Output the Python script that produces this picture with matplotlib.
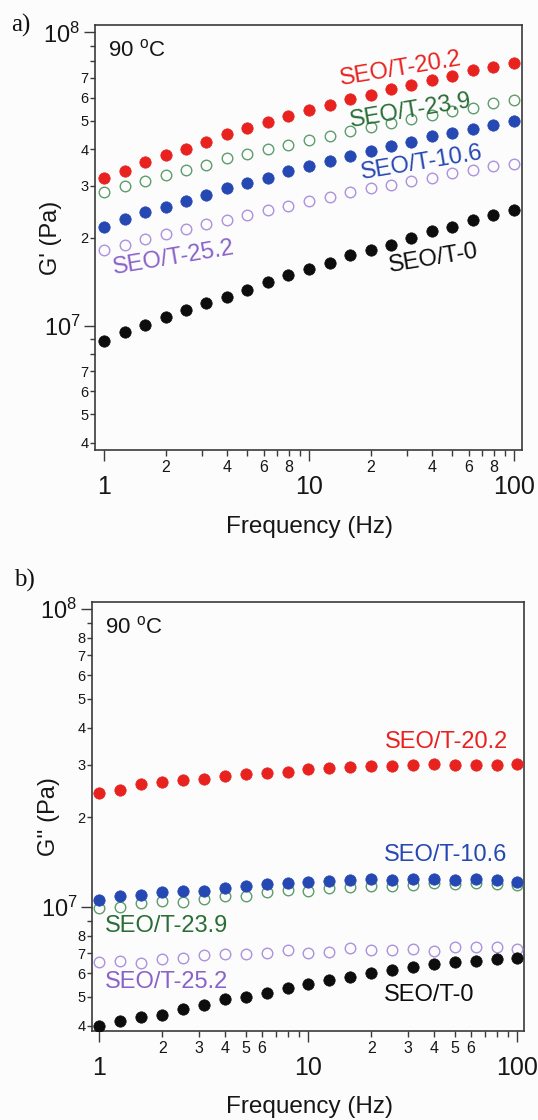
import numpy as np
import matplotlib
matplotlib.use("Agg")
import matplotlib.pyplot as plt

plt.rcParams['font.family'] = ['Liberation Sans', 'DejaVu Sans']
plt.rcParams['mathtext.fontset'] = 'custom'
plt.rcParams['mathtext.rm'] = 'Liberation Sans'
plt.rcParams['mathtext.it'] = 'Liberation Sans:italic'
plt.rcParams['mathtext.bf'] = 'Liberation Sans:bold'

# ---------------- data ----------------
freq = [1, 1.26, 1.58, 2.0, 2.51, 3.16, 3.98, 5.01, 6.31, 7.94,
        10, 12.6, 15.8, 20.0, 25.1, 31.6, 39.8, 50.1, 63.1, 79.4, 100]

# G' (units of 1e7 Pa)
gp_20_2 = [3.18, 3.38, 3.61, 3.83, 4.02, 4.24, 4.49, 4.73, 4.94, 5.18, 5.42,
           5.68, 5.95, 6.14, 6.42, 6.64, 6.91, 7.13, 7.42, 7.61, 7.84]
gp_23_9 = [2.86, 2.99, 3.12, 3.26, 3.41, 3.54, 3.72, 3.85, 4.01, 4.15, 4.29,
           4.45, 4.63, 4.75, 4.92, 5.09, 5.25, 5.39, 5.53, 5.75, 5.90]
gp_10_6 = [2.18, 2.32, 2.44, 2.54, 2.67, 2.80, 2.94, 3.08, 3.19, 3.36, 3.50,
           3.64, 3.78, 3.96, 4.09, 4.22, 4.43, 4.55, 4.69, 4.85, 4.98]
gp_25_2 = [1.82, 1.88, 1.98, 2.05, 2.14, 2.22, 2.30, 2.39, 2.48, 2.57, 2.66,
           2.74, 2.86, 2.94, 3.03, 3.11, 3.18, 3.32, 3.41, 3.50, 3.57]
gp_0 = [0.889, 0.956, 1.008, 1.07, 1.13, 1.20, 1.26, 1.33, 1.41, 1.49, 1.56,
        1.64, 1.74, 1.82, 1.89, 2.00, 2.10, 2.18, 2.30, 2.38, 2.48]

# G'' (units of 1e7 Pa)
gpp_20_2 = [2.42, 2.48, 2.59, 2.63, 2.67, 2.68, 2.75, 2.79, 2.82, 2.85, 2.90,
            2.93, 2.94, 2.97, 2.98, 3.00, 3.03, 3.00, 3.00, 3.00, 3.01]
gpp_10_6 = [1.06, 1.09, 1.10, 1.12, 1.13, 1.13, 1.155, 1.18, 1.195, 1.20, 1.21,
            1.22, 1.23, 1.24, 1.23, 1.245, 1.245, 1.23, 1.245, 1.23, 1.215]
gpp_23_9 = [0.990, 1.003, 1.029, 1.047, 1.042, 1.064, 1.089, 1.089, 1.126, 1.14,
            1.132, 1.155, 1.17, 1.179, 1.179, 1.185, 1.20, 1.192, 1.20, 1.195, 1.185]
gpp_25_2 = [0.655, 0.659, 0.647, 0.667, 0.676, 0.690, 0.696, 0.694, 0.703, 0.717,
            0.703, 0.705, 0.727, 0.717, 0.717, 0.723, 0.713, 0.736, 0.736, 0.736, 0.723]
gpp_0 = [0.400, 0.414, 0.429, 0.436, 0.455, 0.469, 0.491, 0.500, 0.513, 0.536,
         0.554, 0.569, 0.584, 0.599, 0.615, 0.631, 0.642, 0.652, 0.661, 0.669, 0.676]

series_names = ["SEO/T-20.2", "SEO/T-23.9", "SEO/T-10.6", "SEO/T-25.2", "SEO/T-0"]

# tick labels
x_major = [1, 10, 100]
x_major_labels = ["1", "10", "100"]
x_minor = [2, 3, 4, 5, 6, 7, 8, 9, 20, 30, 40, 50, 60, 70, 80, 90]
x_minor_labels_a = ["2", "", "4", "", "6", "", "8", "", "2", "", "4", "", "6", "", "8", ""]
x_minor_labels_b = ["2", "3", "4", "5", "6", "", "", "", "2", "3", "4", "5", "6", "", "", ""]
y_major = [1e7, 1e8]
y_major_labels = [r"$10^7$", r"$10^8$"]
y_minor = [4e6, 5e6, 6e6, 7e6, 8e6, 9e6, 2e7, 3e7, 4e7, 5e7, 6e7, 7e7, 8e7, 9e7]
y_minor_labels_a = ["4", "5", "6", "7", "", "", "2", "3", "4", "5", "6", "7", "", ""]
y_minor_labels_b = ["4", "5", "6", "7", "8", "", "2", "3", "4", "5", "6", "7", "8", ""]

# ---------------- style ----------------
BG = "#fcfcfd"
RED = "#e8221f"
GREEN_M = "#5e9d6b"
GREEN_T = "#2a6e35"
BLUE = "#2548b2"
PURPLE_M = "#ad92dc"
PURPLE_T = "#8a62c9"
BLACK = "#0d0d0d"
SPINE = "#3a3a3a"
TXT = "#161616"

fig = plt.figure(figsize=(5.38, 11.2), dpi=100, facecolor=BG)
ax_a = fig.add_axes([0.1766, 0.5982, 0.7937, 0.3795], facecolor=BG)
ax_b = fig.add_axes([0.1710, 0.0795, 0.8037, 0.3830], facecolor=BG)

f = np.array(freq)


def filled(ax, y, c):
    ax.plot(f, np.array(y) * 1e7, ls="none", marker="o", ms=8.2,
            mfc=c, mec=c, mew=0.5, zorder=4)


def hollow(ax, y, c):
    ax.plot(f, np.array(y) * 1e7, ls="none", marker="o", ms=7.6,
            mfc="none", mec=c, mew=1.0, zorder=3)


def style_axes(ax, xlim, ylim, xminlabels, yminlabels, ylabel, ylab_x, xlab_y):
    ax.set_xscale("log")
    ax.set_yscale("log")
    ax.set_xlim(*xlim)
    ax.set_ylim(*ylim)
    for s in ax.spines.values():
        s.set_color(SPINE)
        s.set_linewidth(1.2)
    ax.set_xticks(x_major)
    ax.set_xticklabels(x_major_labels)
    ax.set_xticks(x_minor, minor=True)
    ax.set_xticklabels(xminlabels, minor=True)
    ax.set_yticks(y_major)
    ax.set_yticklabels(y_major_labels)
    ax.set_yticks(y_minor, minor=True)
    ax.set_yticklabels(yminlabels, minor=True)
    ax.tick_params(axis="x", which="major", direction="out", length=8, width=1.0,
                   color=SPINE, labelsize=18, pad=10, labelcolor=TXT)
    ax.tick_params(axis="x", which="minor", direction="out", length=4.2, width=1.0,
                   color=SPINE, labelsize=11.5, pad=3, labelcolor=TXT)
    ax.tick_params(axis="y", which="major", direction="out", length=8, width=1.0,
                   color=SPINE, labelsize=17, pad=2.5, labelcolor=TXT)
    ax.tick_params(axis="y", which="minor", direction="out", length=3.5, width=1.0,
                   color=SPINE, labelsize=10.5, pad=1, labelcolor=TXT)
    ax.set_ylabel(ylabel, fontsize=17, color=TXT, va="center")
    ax.yaxis.set_label_coords(ylab_x, 0.5)
    ax.set_xlabel("Frequency (Hz)", fontsize=17.5, color=TXT, va="center")
    ax.xaxis.set_label_coords(0.503, xlab_y)
    ax.text(0.03, 0.94, r"90 $^{\mathrm{o}}$C", transform=ax.transAxes,
            fontsize=16, ha="left", va="center", color=TXT)


# ---------------- panel a ----------------
hollow(ax_a, gp_23_9, GREEN_M)
hollow(ax_a, gp_25_2, PURPLE_M)
filled(ax_a, gp_0, BLACK)
filled(ax_a, gp_10_6, BLUE)
filled(ax_a, gp_20_2, RED)
style_axes(ax_a, (0.904, 109.4), (3.78e6, 1.06e8), x_minor_labels_a,
           y_minor_labels_a, "G' (Pa)", -0.104, -0.181)

ax_a.text(28.1, 7.49e7, series_names[0], color=RED, fontsize=17, rotation=9.5,
          ha="center", va="center", zorder=6)
ax_a.text(31.5, 5.39e7, series_names[1], color=GREEN_T, fontsize=17, rotation=9.5,
          ha="center", va="center", zorder=6)
ax_a.text(35.6, 3.58e7, series_names[2], color=BLUE, fontsize=17, rotation=9.5,
          ha="center", va="center", zorder=6)
ax_a.text(2.19, 1.71e7, series_names[3], color=PURPLE_T, fontsize=17, rotation=9.5,
          ha="center", va="center", zorder=6)
ax_a.text(40.7, 1.70e7, series_names[4], color=BLACK, fontsize=17, rotation=9.5,
          ha="center", va="center", zorder=6)

# ---------------- panel b ----------------
hollow(ax_b, gpp_23_9, GREEN_M)
hollow(ax_b, gpp_25_2, PURPLE_M)
filled(ax_b, gpp_0, BLACK)
filled(ax_b, gpp_10_6, BLUE)
filled(ax_b, gpp_20_2, RED)
style_axes(ax_b, (0.921, 107.9), (3.84e6, 1.056e8), x_minor_labels_b,
           y_minor_labels_b, "G'' (Pa)", -0.100, -0.177)

ax_b.text(45.8, 3.58e7, series_names[0], color=RED, fontsize=17,
          ha="center", va="center", zorder=6)
ax_b.text(45.3, 1.497e7, series_names[2], color=BLUE, fontsize=17,
          ha="center", va="center", zorder=6)
ax_b.text(2.09, 8.65e6, series_names[1], color=GREEN_T, fontsize=17,
          ha="center", va="center", zorder=6)
ax_b.text(2.09, 5.60e6, series_names[3], color=PURPLE_T, fontsize=17,
          ha="center", va="center", zorder=6)
ax_b.text(37.7, 5.08e6, series_names[4], color=BLACK, fontsize=17,
          ha="center", va="center", zorder=6)

# panel letters
fig.text(21 / 538, 1 - 25 / 1120, "a)", family=["Liberation Serif", "DejaVu Serif"],
         fontsize=18, ha="center", va="center", color="#111111")
fig.text(24 / 538, 1 - 580 / 1120, "b)", family=["Liberation Serif", "DejaVu Serif"],
         fontsize=18, ha="center", va="center", color="#111111")

fig.savefig("out.png", dpi=100, facecolor=BG)
